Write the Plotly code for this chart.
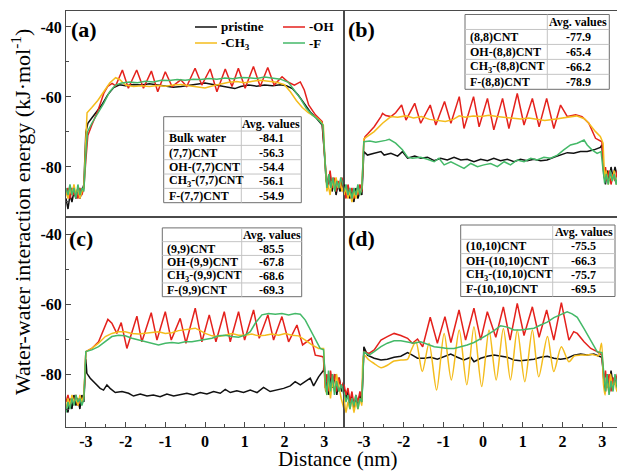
import plotly.graph_objects as go

W, H = 617, 473

# ------------------------------------------------------------------ data
# Panel (a) (7,7)CNT
A_PRISTINE_X = [-3.5, -3.45, -3.4, -3.35, -3.3, -3.25, -3.2, -3.15, -3.1, -3.05,
                -3.0, -2.95, -2.85, -2.75, -2.6, -2.45, -2.3, -2.15, -2.0, -1.8,
                -1.6, -1.4, -1.2, -1.0, -0.8, -0.6, -0.4, -0.2, 0.0, 0.2,
                0.4, 0.6, 0.75, 0.9, 1.1, 1.3, 1.5, 1.7, 1.9, 2.05,
                2.2, 2.35, 2.5, 2.65, 2.8, 2.95, 3.0, 3.05, 3.1, 3.15,
                3.2, 3.25, 3.3, 3.35, 3.4, 3.45, 3.5]
A_PRISTINE_Y = [-89, -92, -88, -90, -87, -89, -86, -89, -87, -85,
                -70, -67.5, -66.0, -64.5, -62.3, -59.4, -57.3, -56.5, -56.8, -56.4,
                -56.6, -56.2, -56.5, -56.9, -57.2, -57.0, -56.6, -56.2, -56.0, -56.4,
                -56.8, -57.3, -57.6, -57.0, -56.6, -56.9, -56.6, -56.8, -56.5, -56.8,
                -57.6, -59.5, -62.0, -64.3, -66.0, -68.0, -75, -84, -86, -82,
                -87, -84, -88, -85, -87, -84, -88]

A_OH_X = [-3.5, -3.45, -3.4, -3.35, -3.3, -3.25, -3.2, -3.15, -3.1, -3.05,
          -3.0, -2.95, -2.85, -2.7, -2.55, -2.45, -2.34, -2.25, -2.08, -1.93,
          -1.72, -1.55, -1.35, -1.19, -1.0, -0.83, -0.61, -0.46, -0.25, -0.08,
          0.13, 0.3, 0.51, 0.68, 0.84, 1.01, 1.22, 1.39, 1.58, 1.74,
          1.94, 2.1, 2.25, 2.4, 2.5, 2.61, 2.78, 2.95, 3.0, 3.05,
          3.1, 3.15, 3.2, 3.25, 3.3, 3.35, 3.4, 3.45, 3.5]
A_OH_Y = [-88, -86, -89, -86, -88, -87, -89, -86, -88, -86,
          -78, -71, -68, -64, -59, -57, -56.1, -56.8, -52.3, -57.5,
          -52.3, -57.5, -52.6, -58.5, -52.8, -57.0, -55.1, -57.0, -51.8, -56.6,
          -52.0, -58.5, -52.0, -57.0, -51.8, -57.5, -51.3, -57.0, -51.6, -56.6,
          -54.2, -55.8, -56.6, -55.7, -58, -62.3, -65.1, -67.0, -75, -82,
          -85, -81, -86, -83, -87, -84, -86, -83, -87]

A_CH3_X = [-3.5, -3.45, -3.4, -3.35, -3.3, -3.25, -3.2, -3.15, -3.1, -3.05,
           -3.0, -2.97, -2.85, -2.7, -2.55, -2.4, -2.25, -2.15, -2.0, -1.8,
           -1.6, -1.4, -1.2, -1.0, -0.8, -0.6, -0.4, -0.2, 0.0, 0.2,
           0.4, 0.6, 0.8, 1.0, 1.2, 1.4, 1.6, 1.8, 2.0, 2.15,
           2.3, 2.45, 2.6, 2.75, 2.9, 2.98, 3.02, 3.07, 3.1, 3.15,
           3.2, 3.25, 3.3, 3.35, 3.4, 3.45, 3.5]
A_CH3_Y = [-87, -89, -86, -88, -85, -88, -86, -89, -87, -86,
           -72, -64.5, -63, -61, -58.5, -56.0, -54.5, -55.0, -56.6, -57.0,
           -56.8, -57.0, -56.7, -56.9, -56.6, -56.4, -56.8, -57.2, -57.4, -56.8,
           -56.2, -55.8, -55.6, -55.9, -55.5, -55.2, -55.5, -55.8, -56.5, -58.5,
           -61, -63, -64.5, -65.5, -66.8, -68, -78, -87, -85, -88,
           -84, -86, -83, -86, -84, -87, -85]

A_F_X = [-3.5, -3.45, -3.4, -3.35, -3.3, -3.25, -3.2, -3.15, -3.1, -3.05,
         -3.0, -2.96, -2.85, -2.7, -2.55, -2.4, -2.25, -2.1, -1.9, -1.7,
         -1.5, -1.3, -1.1, -0.9, -0.7, -0.5, -0.3, -0.1, 0.1, 0.3,
         0.5, 0.7, 0.9, 1.1, 1.3, 1.5, 1.7, 1.9, 2.1, 2.25,
         2.4, 2.55, 2.7, 2.85, 2.97, 3.02, 3.07, 3.12, 3.17, 3.22,
         3.27, 3.32, 3.37, 3.42, 3.5]
A_F_Y = [-86, -88, -85, -88, -86, -89, -85, -88, -86, -87,
         -76, -70, -67.5, -64.7, -61.8, -58.5, -56.6, -56.0, -55.7, -55.9,
         -55.5, -55.7, -55.2, -55.3, -55.0, -55.2, -54.9, -55.0, -54.7, -54.9,
         -54.6, -54.8, -54.4, -54.5, -54.7, -54.3, -54.5, -54.9, -55.8, -58,
         -60.4, -63.2, -65.1, -66.5, -68, -78, -86, -82, -86, -83,
         -87, -84, -86, -83, -86]

# Panel (b) (8,8)CNT
B_PRISTINE_X = [-3.5, -3.45, -3.4, -3.35, -3.3, -3.25, -3.2, -3.15, -3.1, -3.05,
                -3.0, -2.91, -2.74, -2.57, -2.49, -2.32, -2.15, -2.03, -1.9, -1.72,
                -1.57, -1.4, -1.23, -1.07, -0.9, -0.73, -0.56, -0.4, -0.23, -0.06,
                0.11, 0.27, 0.44, 0.61, 0.78, 0.94, 1.11, 1.28, 1.45, 1.61,
                1.78, 1.95, 2.12, 2.28, 2.45, 2.62, 2.79, 2.95, 2.99, 3.04,
                3.08, 3.12, 3.17, 3.22, 3.27, 3.32, 3.38, 3.44, 3.5]
B_PRISTINE_Y = [-85, -88, -86, -89, -87, -90, -86, -89, -87, -88,
                -75.6, -76.6, -76.1, -75.6, -76.6, -76.1, -76.9, -75.6, -77.5, -76.9,
                -77.5, -77.2, -78.2, -77.5, -78.0, -77.2, -78.0, -77.8, -78.5, -77.8,
                -78.2, -77.5, -78.2, -77.8, -78.5, -77.8, -78.2, -77.8, -78.2, -78.0,
                -77.2, -76.6, -75.9, -76.1, -75.6, -75.6, -75.1, -74.4, -73.7, -82,
                -85, -81, -84, -80, -83, -80, -83, -81, -84]

B_OH_X = [-3.5, -3.45, -3.4, -3.35, -3.3, -3.25, -3.2, -3.15, -3.1, -3.05,
          -3.0, -2.97, -2.9, -2.74, -2.57, -2.53, -2.45, -2.32, -2.2, -2.05,
          -1.94, -1.72, -1.57, -1.33, -1.19, -0.97, -0.81, -0.6, -0.48, -0.24,
          -0.1, 0.11, 0.27, 0.49, 0.65, 0.86, 1.03, 1.24, 1.41, 1.6,
          1.78, 1.95, 2.12, 2.33, 2.49, 2.66, 2.83, 2.99, 3.04, 3.08,
          3.12, 3.17, 3.22, 3.27, 3.32, 3.38, 3.44, 3.5]
B_OH_Y = [-86, -89, -85, -88, -86, -89, -87, -88, -85, -87,
          -72.5, -71.3, -70.5, -68.5, -65.6, -64.7, -65.3, -65.6, -64.5, -62.3,
          -66.6, -61.8, -67.5, -62.3, -68.0, -61.3, -67.5, -59.9, -69.0, -59.9,
          -68.5, -60.4, -69.4, -60.4, -69.0, -59.0, -68.0, -60.4, -68.5, -60.4,
          -69.0, -62.3, -65.6, -65.1, -65.6, -67.5, -71.8, -72.8, -83, -80,
          -84, -81, -85, -82, -84, -81, -84, -82]

B_CH3_X = [-3.5, -3.45, -3.4, -3.35, -3.3, -3.25, -3.2, -3.15, -3.1, -3.05,
           -3.0, -2.74, -2.53, -2.32, -2.15, -1.95, -1.75, -1.55, -1.35, -1.15,
           -0.95, -0.75, -0.6, -0.45, -0.25, -0.05, 0.15, 0.35, 0.55, 0.75,
           0.95, 1.15, 1.35, 1.55, 1.75, 1.95, 2.15, 2.35, 2.55, 2.66,
           2.83, 2.95, 3.02, 3.06, 3.1, 3.15, 3.2, 3.25, 3.3, 3.35,
           3.4, 3.5]
B_CH3_Y = [-88, -86, -89, -87, -90, -87, -89, -86, -88, -86,
           -72.0, -69.9, -67.5, -65.6, -65.8, -65.4, -66.0, -65.6, -66.4, -66.8,
           -67.0, -66.4, -65.4, -65.8, -65.4, -65.6, -65.2, -65.6, -65.9, -66.1,
           -66.3, -66.0, -66.4, -66.7, -66.4, -66.0, -65.6, -65.4, -66.2, -67.5,
           -69.9, -71.3, -73.2, -83.7, -81, -85, -82, -84, -81, -85,
           -82, -84]

B_F_X = [-3.5, -3.45, -3.4, -3.35, -3.3, -3.25, -3.2, -3.15, -3.1, -3.05,
         -3.0, -2.85, -2.7, -2.55, -2.45, -2.36, -2.2, -2.03, -1.9, -1.78,
         -1.57, -1.4, -1.23, -1.11, -0.98, -0.81, -0.65, -0.48, -0.31, -0.14,
         0.02, 0.19, 0.36, 0.53, 0.69, 0.86, 1.03, 1.2, 1.36, 1.53,
         1.7, 1.87, 2.03, 2.2, 2.37, 2.54, 2.62, 2.74, 2.87, 2.97,
         3.02, 3.06, 3.1, 3.15, 3.2, 3.25, 3.3, 3.35, 3.4, 3.5]
B_F_Y = [-87, -85, -88, -86, -89, -86, -88, -85, -88, -86,
         -72.8, -72.6, -72.9, -72.7, -72.4, -72.1, -73.2, -75.1, -77.2, -77.5,
         -77.2, -77.8, -78.5, -77.5, -79.4, -78.5, -79.4, -80.4, -79.0, -79.9,
         -79.4, -79.0, -79.9, -78.5, -79.4, -78.0, -78.5, -77.5, -78.0, -77.2,
         -77.5, -76.6, -75.1, -73.7, -73.2, -72.3, -73.7, -75.1, -76.1, -75.6,
         -80.9, -84.7, -82, -85, -81, -84, -82, -85, -82, -84]

# Panel (c) (9,9)CNT
C_PRISTINE_X = [-3.5, -3.45, -3.4, -3.35, -3.3, -3.25, -3.2, -3.15, -3.1, -3.05,
                -3.0, -2.975, -2.89, -2.765, -2.64, -2.555, -2.47, -2.39, -2.26, -2.09,
                -1.925, -1.8, -1.63, -1.46, -1.3, -1.13, -0.96, -0.79, -0.62, -0.456,
                -0.288, -0.12, 0.048, 0.216, 0.384, 0.51, 0.636, 0.8, 0.97, 1.14,
                1.31, 1.475, 1.64, 1.81, 1.98, 2.147, 2.27, 2.4, 2.525, 2.65,
                2.735, 2.86, 2.986, 3.0, 3.04, 3.08, 3.12, 3.17, 3.22, 3.27,
                3.32, 3.38, 3.44, 3.5]
C_PRISTINE_Y = [-89, -91, -87, -90, -86, -89, -87, -90, -86, -88,
                -75.8, -79.8, -81.2, -82.7, -84.1, -84.6, -83.1, -84.1, -85.3, -85.0,
                -85.5, -86.3, -85.7, -86.3, -86.0, -86.5, -85.7, -86.3, -86.0, -85.5,
                -86.0, -85.3, -85.7, -85.0, -85.5, -84.4, -85.3, -84.8, -85.3, -84.6,
                -85.3, -83.8, -85.0, -84.6, -84.1, -83.4, -82.2, -83.1, -82.2, -81.2,
                -83.4, -80.8, -78.9, -76.5, -85, -81, -86, -80, -84, -80,
                -86, -81, -85, -83]

C_OH_X = [-3.5, -3.45, -3.4, -3.35, -3.3, -3.25, -3.2, -3.15, -3.1, -3.05,
          -3.0, -2.85, -2.68, -2.555, -2.446, -2.345, -2.22, -2.11, -1.967, -1.715,
          -1.59, -1.354, -1.21, -1.0, -0.85, -0.624, -0.48, -0.246, -0.078, 0.107,
          0.275, 0.485, 0.636, 0.845, 0.997, 1.223, 1.366, 1.584, 1.727, 1.937,
          2.105, 2.315, 2.457, 2.676, 2.777, 2.945, 2.98, 3.03, 3.07, 3.11,
          3.16, 3.21, 3.26, 3.31, 3.37, 3.43, 3.5]
C_OH_Y = [-88, -86, -89, -87, -88, -86, -89, -87, -88, -87,
          -73.6, -72.7, -70.8, -67.4, -64.4, -65.5, -68.4, -65.3, -72.7, -63.5,
          -70.8, -62.5, -70.3, -62.2, -70.3, -64.1, -71.2, -61.2, -70.8, -63.1,
          -70.8, -62.2, -70.8, -62.2, -70.3, -61.7, -69.8, -63.1, -70.3, -63.6,
          -70.8, -66.0, -71.7, -69.8, -74.6, -75.0, -75.2, -84, -80, -85,
          -79, -83, -80, -85, -81, -84, -82]

C_CH3_X = [-3.5, -3.45, -3.4, -3.35, -3.3, -3.25, -3.2, -3.15, -3.1, -3.05,
           -3.0, -2.85, -2.68, -2.51, -2.345, -2.18, -2.01, -1.84, -1.673, -1.505,
           -1.337, -1.17, -1.0, -0.834, -0.666, -0.498, -0.33, -0.246, -0.12, 0.006,
           0.174, 0.342, 0.51, 0.678, 0.845, 1.013, 1.18, 1.35, 1.517, 1.685,
           1.853, 2.02, 2.19, 2.357, 2.525, 2.693, 2.86, 2.986, 3.03, 3.07,
           3.11, 3.16, 3.21, 3.26, 3.31, 3.37, 3.43, 3.5]
C_CH3_Y = [-90, -87, -89, -86, -88, -87, -89, -86, -88, -86,
           -73.6, -72.7, -71.2, -69.3, -68.4, -67.9, -67.9, -68.4, -68.6, -68.4,
           -68.2, -67.9, -68.4, -68.2, -67.6, -67.4, -67.2, -66.9, -67.6, -68.4,
           -69.1, -69.3, -68.9, -68.4, -68.9, -68.9, -68.6, -69.1, -68.9, -68.6,
           -68.9, -68.4, -68.9, -69.1, -70.3, -71.7, -72.7, -72.7, -84, -86,
           -81, -87, -82, -85, -80, -84, -87, -90]

C_F_X = [-3.5, -3.45, -3.4, -3.35, -3.3, -3.25, -3.2, -3.15, -3.1, -3.05,
         -3.0, -2.85, -2.68, -2.51, -2.345, -2.18, -2.01, -1.84, -1.673, -1.505,
         -1.337, -1.17, -1.0, -0.834, -0.666, -0.498, -0.33, -0.162, 0.006, 0.174,
         0.342, 0.51, 0.678, 0.845, 1.013, 1.14, 1.265, 1.433, 1.6, 1.77,
         1.937, 2.105, 2.27, 2.4, 2.525, 2.65, 2.777, 2.9, 2.986, 3.03,
         3.07, 3.11, 3.16, 3.21, 3.26, 3.31, 3.37, 3.43, 3.5]
C_F_Y = [-91, -88, -90, -87, -89, -86, -88, -87, -89, -87,
         -73.6, -73.1, -72.2, -70.8, -69.3, -68.9, -69.1, -69.8, -70.3, -70.8,
         -71.2, -71.7, -71.2, -71.0, -71.2, -70.8, -70.8, -70.5, -70.3, -69.8,
         -69.1, -68.9, -69.3, -69.5, -68.9, -67.9, -65.5, -63.1, -62.7, -62.9,
         -62.7, -63.1, -62.7, -62.9, -64.6, -67.4, -69.8, -72.7, -73.1, -82,
         -86, -79, -85, -80, -86, -82, -85, -83, -86]

# Panel (d) (10,10)CNT
D_PRISTINE_X = [-3.5, -3.45, -3.4, -3.35, -3.3, -3.25, -3.2, -3.15, -3.1, -3.05,
                -3.0, -2.91, -2.74, -2.57, -2.41, -2.24, -2.07, -1.9, -1.78, -1.65,
                -1.48, -1.32, -1.15, -0.98, -0.814, -0.647, -0.48, -0.31, -0.228, -0.06,
                0.107, 0.275, 0.442, 0.61, 0.777, 0.945, 1.112, 1.28, 1.447, 1.615,
                1.782, 1.95, 2.117, 2.285, 2.452, 2.62, 2.787, 2.955, 2.99, 3.04,
                3.08, 3.12, 3.17, 3.22, 3.27, 3.32, 3.38, 3.44, 3.5]
D_PRISTINE_Y = [-84, -87, -85, -89, -86, -90, -87, -89, -86, -88,
                -72.2, -74.6, -75.5, -76.0, -75.8, -75.2, -74.9, -73.9, -74.6, -75.5,
                -75.5, -75.2, -75.8, -75.0, -74.3, -75.2, -76.0, -75.2, -76.5, -75.5,
                -74.9, -74.6, -74.9, -75.2, -76.0, -76.2, -76.0, -75.8, -75.2, -74.9,
                -75.5, -75.8, -75.5, -74.6, -74.3, -74.6, -74.3, -74.9, -75.2, -82,
                -85, -80, -84, -79, -83, -81, -84, -80, -83]

D_OH_X = [-3.5, -3.45, -3.4, -3.35, -3.3, -3.25, -3.2, -3.15, -3.1, -3.05,
          -3.0, -2.87, -2.74, -2.57, -2.41, -2.24, -2.07, -1.9, -1.78, -1.65,
          -1.52, -1.33, -1.15, -0.96, -0.81, -0.605, -0.44, -0.23, -0.06, 0.107,
          0.32, 0.51, 0.68, 0.86, 1.03, 1.24, 1.41, 1.6, 1.78, 1.97,
          2.16, 2.28, 2.37, 2.54, 2.71, 2.87, 2.99, 3.04, 3.08, 3.12,
          3.17, 3.22, 3.27, 3.32, 3.38, 3.44, 3.5]
D_OH_Y = [-83, -86, -84, -88, -85, -89, -86, -88, -85, -87,
          -73.6, -74.1, -73.1, -70.3, -69.3, -68.4, -69.0, -69.8, -71.2, -70.0,
          -72.2, -63.8, -71.2, -63.6, -71.0, -61.7, -70.3, -61.2, -70.3, -62.2,
          -69.5, -60.8, -70.3, -59.8, -69.0, -60.8, -69.5, -61.7, -70.3, -59.6,
          -70.3, -67.9, -68.4, -70.8, -72.7, -73.6, -74.6, -82, -79, -84,
          -80, -85, -81, -83, -80, -84, -81]

D_CH3_X = [-3.5, -3.45, -3.4, -3.35, -3.3, -3.25, -3.2, -3.15, -3.1, -3.05,
           -3.0, -2.87, -2.74, -2.57, -2.41, -2.24, -2.07, -1.9, -1.82, -1.69,
           -1.53, -1.36, -1.17, -0.98, -0.8, -0.6, -0.41, -0.23, -0.035, 0.15,
           0.33, 0.51, 0.69, 0.86, 1.05, 1.24, 1.4, 1.62, 1.78, 1.97,
           2.16, 2.3, 2.45, 2.6, 2.75, 2.9, 2.98, 3.03, 3.07, 3.11,
           3.16, 3.21, 3.26, 3.31, 3.37, 3.43, 3.5]
D_CH3_Y = [-86, -91, -88, -90, -87, -91, -88, -90, -87, -89,
           -74.6, -76.0, -77.0, -78.2, -77.5, -76.3, -76.0, -75.8, -73.5, -70.8,
           -79.3, -71.2, -84.6, -68.4, -81.7, -67.4, -83.1, -66.5, -83.6, -67.4,
           -81.7, -67.0, -81.7, -67.4, -82.2, -67.4, -80.8, -69.3, -79.3, -72.2,
           -76.5, -74.8, -74.6, -74.6, -74.4, -74.8, -71.2, -83, -86, -81,
           -85, -80, -84, -82, -85, -81, -84]

D_F_X = [-3.5, -3.45, -3.4, -3.35, -3.3, -3.25, -3.2, -3.15, -3.1, -3.05,
         -3.0, -2.87, -2.74, -2.57, -2.41, -2.24, -2.07, -1.9, -1.74, -1.57,
         -1.4, -1.23, -1.07, -0.9, -0.73, -0.56, -0.4, -0.23, -0.06, 0.107,
         0.275, 0.442, 0.61, 0.777, 0.945, 1.112, 1.28, 1.447, 1.615, 1.782,
         1.95, 2.117, 2.24, 2.37, 2.54, 2.7, 2.87, 2.99, 3.04, 3.08,
         3.12, 3.17, 3.22, 3.27, 3.32, 3.38, 3.44, 3.5]
D_F_Y = [-85, -88, -86, -90, -87, -89, -86, -90, -87, -88,
         -73.6, -74.6, -73.6, -72.2, -71.2, -70.5, -70.5, -70.8, -71.2, -70.8,
         -71.4, -72.2, -72.4, -72.7, -72.7, -72.2, -71.7, -71.0, -70.0, -68.8,
         -67.6, -66.2, -66.6, -67.4, -67.4, -67.2, -66.9, -66.0, -65.2, -63.9,
         -63.0, -62.2, -62.8, -63.8, -67.0, -70.3, -73.6, -73.9, -81, -85,
         -80, -86, -82, -85, -80, -84, -82, -85]

# tables of average values
TABLE_A_LABELS = ["Bulk water", "(7,7)CNT", "OH-(7,7)CNT", "CH<sub>3</sub>-(7,7)CNT", "F-(7,7)CNT"]
TABLE_A_VALUES = [-84.1, -56.3, -54.4, -56.1, -54.9]
TABLE_B_LABELS = ["(8,8)CNT", "OH-(8,8)CNT", "CH<sub>3</sub>-(8,8)CNT", "F-(8,8)CNT"]
TABLE_B_VALUES = [-77.9, -65.4, -66.2, -78.9]
TABLE_C_LABELS = ["(9,9)CNT", "OH-(9,9)CNT", "CH<sub>3</sub>-(9,9)CNT", "F-(9,9)CNT"]
TABLE_C_VALUES = [-85.5, -67.8, -68.6, -69.3]
TABLE_D_LABELS = ["(10,10)CNT", "OH-(10,10)CNT", "CH<sub>3</sub>-(10,10)CNT", "F-(10,10)CNT"]
TABLE_D_VALUES = [-75.5, -66.3, -75.7, -69.5]

X_TICKS = [-3, -2, -1, 0, 1, 2, 3]
X_TICK_TEXT = ["-3", "-2", "-1", "0", "1", "2", "3"]
Y_TICKS = [-80, -60, -40]
Y_TICK_TEXT = ["-80", "-60", "-40"]

SERIES_NAMES = ["pristine", "-OH", "-CH<sub>3</sub>", "-F"]
COLORS = ["#111111", "#e4211c", "#f4bc1c", "#44b968"]

# ------------------------------------------------------------------ figure
FONT = "Liberation Serif"
fig = go.Figure()

panels = [
    ("x", "y", [(A_PRISTINE_X, A_PRISTINE_Y), (A_OH_X, A_OH_Y), (A_CH3_X, A_CH3_Y), (A_F_X, A_F_Y)]),
    ("x2", "y2", [(B_PRISTINE_X, B_PRISTINE_Y), (B_OH_X, B_OH_Y), (B_CH3_X, B_CH3_Y), (B_F_X, B_F_Y)]),
    ("x3", "y3", [(C_PRISTINE_X, C_PRISTINE_Y), (C_OH_X, C_OH_Y), (C_CH3_X, C_CH3_Y), (C_F_X, C_F_Y)]),
    ("x4", "y4", [(D_PRISTINE_X, D_PRISTINE_Y), (D_OH_X, D_OH_Y), (D_CH3_X, D_CH3_Y), (D_F_X, D_F_Y)]),
]
for pi, (xa, ya, series) in enumerate(panels):
    for si, (xs, ys) in enumerate(series):
        assert len(xs) == len(ys), (pi, si, len(xs), len(ys))
        shape = "spline" if (pi == 3 and si == 2) else "linear"
        fig.add_trace(go.Scatter(
            x=xs, y=ys, xaxis=xa, yaxis=ya, mode="lines",
            name=SERIES_NAMES[si], showlegend=False, hoverinfo="skip",
            line=dict(color=COLORS[si], width=1.5, shape=shape, smoothing=0.8 if shape == "spline" else None),
        ))

XL = [66 / W, 344 / W]
XR = [344 / W, 1.0]
YT = [(H - 217) / H, (H - 11) / H]
YB = [(H - 427) / H, (H - 217) / H]
LINE = dict(showline=True, linecolor="#4a4a4a", linewidth=1, showgrid=False, zeroline=False)
TICKFONT = dict(family=FONT, size=16, color="black", weight="bold")

def xaxis(domain, rng, anchor, labels):
    d = dict(domain=domain, range=rng, anchor=anchor, mirror=True, **LINE)
    if labels:
        d.update(tickmode="array", tickvals=X_TICKS, ticktext=X_TICK_TEXT, ticks="inside",
                 ticklen=5, tickcolor="#4a4a4a", tickfont=TICKFONT,
                 minor=dict(tickvals=[-3.5, -2.5, -1.5, -0.5, 0.5, 1.5, 2.5, 3.5], ticks="inside",
                            ticklen=3, tickcolor="#4a4a4a"))
    else:
        d.update(showticklabels=False, ticks="")
    return d

def yaxis(domain, rng, anchor, labels, mirror):
    d = dict(domain=domain, range=rng, anchor=anchor, mirror=mirror, **LINE)
    if labels:
        d.update(tickmode="array", tickvals=Y_TICKS, ticktext=Y_TICK_TEXT, ticks="inside",
                 ticklen=5, tickcolor="#4a4a4a", tickfont=TICKFONT,
                 minor=dict(tickvals=[-90, -70, -50], ticks="inside", ticklen=3, tickcolor="#4a4a4a"))
    else:
        d.update(showticklabels=False, ticks="")
    return d

fig.update_layout(
    width=W, height=H,
    margin=dict(l=0, r=0, t=0, b=0, autoexpand=False),
    paper_bgcolor="white", plot_bgcolor="white",
    showlegend=False,
    font=dict(family=FONT, color="black"),
    xaxis=xaxis(XL, [-3.5, 3.5], "y", False),
    yaxis=yaxis(YT, [-94.29, -35.43], "x", True, True),
    xaxis2=xaxis(XR, [-3.5, 3.37], "y2", False),
    yaxis2=yaxis(YT, [-94.29, -35.43], "x2", False, False),
    xaxis3=xaxis(XL, [-3.5, 3.5], "y3", True),
    yaxis3=yaxis(YB, [-95.14, -35.14], "x3", True, True),
    xaxis4=xaxis(XR, [-3.5, 3.37], "y4", True),
    yaxis4=yaxis(YB, [-95.14, -35.14], "x4", False, False),
)

shapes = []
annotations = []

def px(xp):
    return xp / W

def py(yp):
    return 1 - yp / H

def text(x, y, s, size, bold=True, xanchor="left", angle=0, yanchor="middle"):
    annotations.append(dict(
        x=px(x), y=py(y), xref="paper", yref="paper", text=s, showarrow=False,
        xanchor=xanchor, yanchor=yanchor, textangle=angle,
        font=dict(family=FONT, size=size, color="black", weight="bold" if bold else "normal"),
    ))

# panel labels
for lab, (lx, ly) in zip(["(a)", "(b)", "(c)", "(d)"], [(84, 29), (361, 29), (81, 238), (361, 238)]):
    text(lx, ly, lab, 22, True, "center")

# axis titles
text(21, 212, "Water-water interaction energy (kJ·mol<sup>-1</sup>)", 22, False, "center", -90)
text(338, 473, "Distance (nm)", 21, False, "center", 0, "bottom")

# legend (manual, two columns)
legend_pos = [(195, 27), (283, 27), (195, 43), (283, 43)]
for si, (lx, ly) in enumerate(legend_pos):
    shapes.append(dict(type="line", xref="paper", yref="paper", x0=px(lx), x1=px(lx + 22),
                       y0=py(ly), y1=py(ly), line=dict(color=COLORS[si], width=1.5)))
    text(lx + 24, ly, SERIES_NAMES[si], 13, True, "left")

# tables
def table(left, top, right, bottom, divider, labels, values):
    nrows = len(labels) + 1
    rh = (bottom - top) / nrows
    shapes.append(dict(type="rect", xref="paper", yref="paper", x0=px(left), x1=px(right),
                       y0=py(bottom), y1=py(top), fillcolor="white",
                       line=dict(color="#6e6e6e", width=1)))
    for r in range(1, nrows):
        yy = top + r * rh
        shapes.append(dict(type="line", xref="paper", yref="paper", x0=px(left), x1=px(right),
                           y0=py(yy), y1=py(yy), line=dict(color="#c4c4c4", width=1)))
    shapes.append(dict(type="line", xref="paper", yref="paper", x0=px(divider), x1=px(divider),
                       y0=py(bottom), y1=py(top), line=dict(color="#c4c4c4", width=1)))
    cx = (divider + right) / 2
    text(cx, top + rh / 2, "Avg. values", 12, True, "center")
    for i, (lab, val) in enumerate(zip(labels, values)):
        yy = top + (i + 1.5) * rh
        text(left + 3, yy, lab, 12, True, "left")
        text(cx, yy, f"{val:.1f}", 12, True, "center")

table(163.7, 116.7, 301.3, 202.7, 241.3, TABLE_A_LABELS, TABLE_A_VALUES)
table(465, 14.5, 609.3, 89.3, 547.3, TABLE_B_LABELS, TABLE_B_VALUES)
table(162.3, 227.9, 301.7, 296.7, 241.7, TABLE_C_LABELS, TABLE_C_VALUES)
table(460.7, 225, 615, 296.5, 552.7, TABLE_D_LABELS, TABLE_D_VALUES)

fig.update_layout(shapes=shapes, annotations=annotations)
fig.write_html("out.html", config={"displayModeBar": False},
               post_script="document.body.style.margin='0px';document.body.style.overflow='hidden';")
